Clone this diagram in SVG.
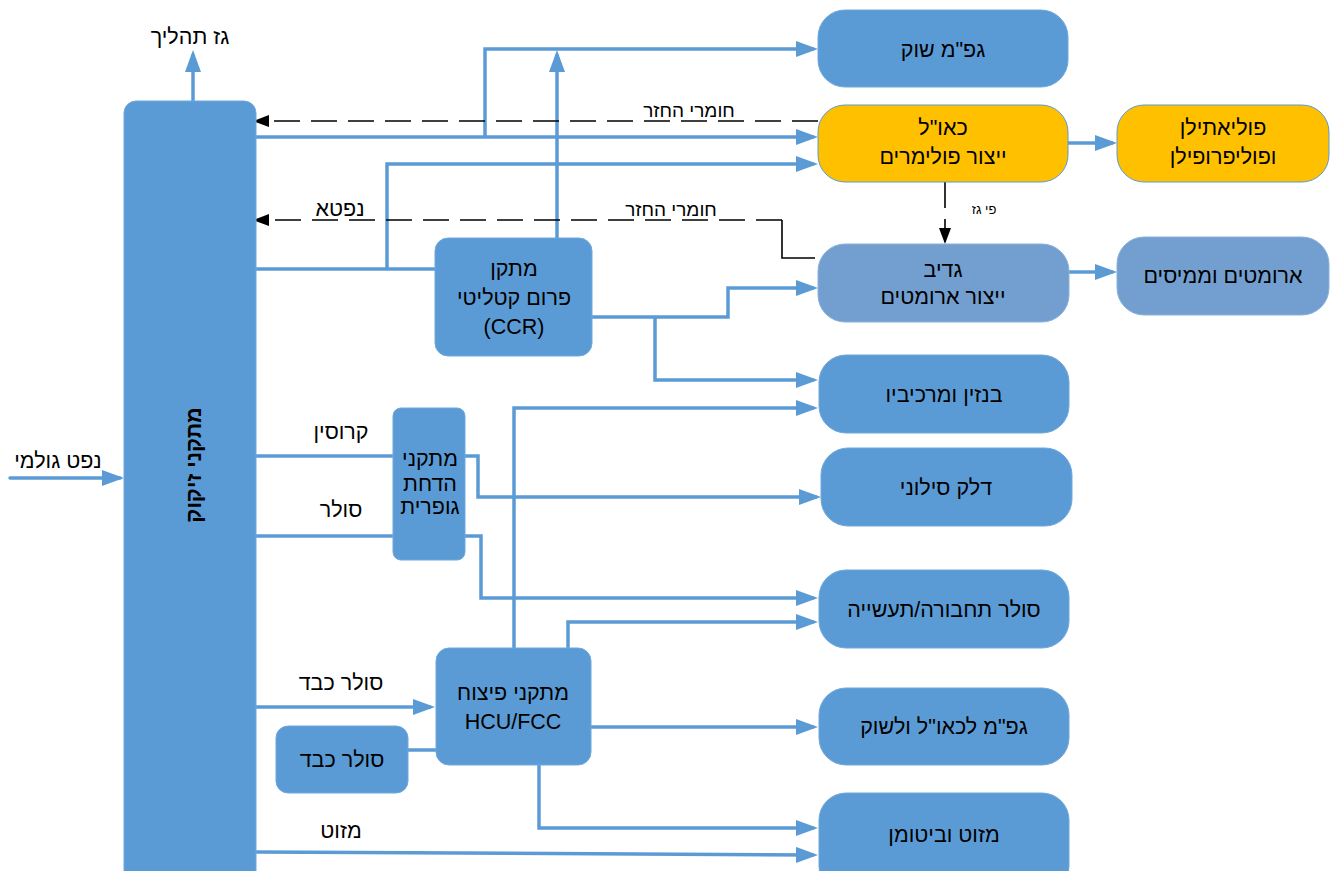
<svg xmlns="http://www.w3.org/2000/svg" width="1330" height="871" viewBox="0 0 1330 871">
<defs>
<marker id="ab" viewBox="0 0 22 16" markerWidth="22" markerHeight="16" refX="18" refY="8" markerUnits="userSpaceOnUse" orient="auto"><path d="M0,0 L22,8 L0,16 z" fill="#5B9BD5"/></marker>
<marker id="ak" viewBox="0 0 16 12" markerWidth="16" markerHeight="12" refX="14" refY="6" markerUnits="userSpaceOnUse" orient="auto"><path d="M0,0 L16,6 L0,12 z" fill="#000"/></marker>
<style>
.n{fill:#5B9BD5;stroke:#6FA8DC;stroke-width:1}
.y{fill:#FFC000;stroke:#5B9BD5;stroke-width:1}
.g{fill:#729FCF;stroke:#8AB2DC;stroke-width:1}
.t{font-family:"Liberation Sans","DejaVu Sans",sans-serif;font-size:21.5px;fill:#000;text-anchor:middle}
.s{font-family:"Liberation Sans","DejaVu Sans",sans-serif;font-size:19px;fill:#000;text-anchor:middle}
.c{fill:none;stroke:#5B9BD5;stroke-width:3.5;marker-end:url(#ab)}
.c0{fill:none;stroke:#5B9BD5;stroke-width:3.5}
.d{fill:none;stroke:#000;stroke-width:1.6;stroke-dasharray:26 11;marker-end:url(#ak)}
.k{fill:none;stroke:#000;stroke-width:1.6}
</style>
</defs>
<rect width="1330" height="871" fill="#fff"/>

<g id="connectors">
<path class="c" d="M193 101 V54"/>
<path class="c" d="M10 478 H120" stroke-linecap="round"/>
<path class="c" d="M256 137 H814"/>
<path class="c" d="M485 137 V49 H814"/>
<path class="c" d="M557 238 V54"/>
<path class="c0" d="M256 269 H435"/>
<path class="c" d="M387 269 V164 H814"/>
<path class="c" d="M592 317 H728 V288 H814"/>
<path class="c" d="M655 317 V380 H814"/>
<path class="c0" d="M256 456 H393"/>
<path class="c" d="M465 456 H478 V497 H817"/>
<path class="c0" d="M256 536 H393"/>
<path class="c" d="M465 536 H481 V598 H814"/>
<path class="c" d="M514 648 V408 H814"/>
<path class="c" d="M568 648 V622 H814"/>
<path class="c" d="M256 707 H431"/>
<path class="c0" d="M408 750 H436"/>
<path class="c" d="M591 727 H814"/>
<path class="c" d="M539 765 V828 H814"/>
<path class="c" d="M256 852 L814 855"/>
<path class="c" d="M1068 143 H1113"/>
<path class="c" d="M1069 272 H1113"/>
<path class="d" d="M818 121 H255"/>
<path class="k" d="M815 258 H782 V220"/>
<path class="d" d="M782 220 H255"/>
<path class="d" d="M945 182 V242"/>
<text class="s" x="689" y="117">חומרי החזר</text>
<text class="s" x="671" y="216">חומרי החזר</text>
<text class="t" x="340" y="216">נפטא</text>
<text x="984" y="214" font-family="Liberation Sans, DejaVu Sans, sans-serif" font-size="13" text-anchor="middle">פי גז</text>
<text class="t" x="190" y="44" font-size="23">גז תהליך</text>
<text class="t" x="58" y="468">נפט גולמי</text>
<text class="t" x="341" y="439">קרוסין</text>
<text class="t" x="341" y="517">סולר</text>
<text class="t" x="341" y="690">סולר כבד</text>
<text class="t" x="341" y="838">מזוט</text>
</g>

<g id="refinery">
<rect class="n" x="124" y="101" width="132" height="790" rx="12"/>
<text class="t" font-size="27" font-weight="bold" transform="translate(201,465) rotate(-90)">מתקני זיקוק</text>
</g>

<g id="ccr">
<rect class="n" x="435" y="238" width="157" height="118" rx="13"/>
<text class="t" x="514" y="276">מתקן</text>
<text class="t" x="514" y="305">פרום קטליטי</text>
<text class="t" x="514" y="334">(CCR)</text>
</g>

<g id="desulf">
<rect class="n" x="393" y="408" width="72" height="152" rx="8"/>
<text class="t" font-size="18" x="430" y="466">מתקני</text>
<text class="t" font-size="18" x="430" y="491">הדחת</text>
<text class="t" font-size="18" x="430" y="514">גופרית</text>
</g>

<g id="hcu">
<rect class="n" x="436" y="648" width="155" height="117" rx="13"/>
<text class="t" x="513" y="700">מתקני פיצוח</text>
<text class="t" x="513" y="729">HCU/FCC</text>
</g>

<g id="heavy-gasoil">
<rect class="n" x="276" y="726" width="132" height="67" rx="12"/>
<text class="t" x="342" y="767">סולר כבד</text>
</g>

<g id="lpg-market">
<rect class="n" x="818" y="10" width="250" height="77" rx="27"/>
<text class="t" x="943" y="57">גפ"מ שוק</text>
</g>

<g id="cao">
<rect class="y" x="818" y="105" width="250" height="77" rx="27"/>
<text class="t" x="943" y="135">כאו"ל</text>
<text class="t" x="943" y="164">ייצור פולימרים</text>
</g>

<g id="polymers">
<rect class="y" x="1117" y="105" width="212" height="77" rx="27"/>
<text class="t" x="1223" y="135">פוליאתילן</text>
<text class="t" x="1223" y="164">ופוליפרופילן</text>
</g>

<g id="gadiv">
<rect class="g" x="818" y="244" width="251" height="78" rx="27"/>
<text class="t" x="943" y="277">גדיב</text>
<text class="t" x="943" y="304">ייצור ארומטים</text>
</g>

<g id="aromatics">
<rect class="g" x="1117" y="237" width="212" height="78" rx="27"/>
<text class="t" x="1223" y="283">ארומטים וממיסים</text>
</g>

<g id="gasoline">
<rect class="n" x="819" y="355" width="250" height="78" rx="27"/>
<text class="t" x="944" y="402">בנזין ומרכיביו</text>
</g>

<g id="jet">
<rect class="n" x="821" y="448" width="251" height="78" rx="27"/>
<text class="t" x="946" y="495">דלק סילוני</text>
</g>

<g id="diesel">
<rect class="n" x="819" y="570" width="250" height="78" rx="27"/>
<text class="t" x="944" y="617">סולר תחבורה/תעשייה</text>
</g>

<g id="lpg-cao">
<rect class="n" x="819" y="688" width="250" height="77" rx="27"/>
<text class="t" x="944" y="734">גפ"מ לכאו"ל ולשוק</text>
</g>

<g id="fueloil">
<rect class="n" x="819" y="793" width="250" height="100" rx="27"/>
<text class="t" x="944" y="842">מזוט וביטומן</text>
</g>
</svg>
